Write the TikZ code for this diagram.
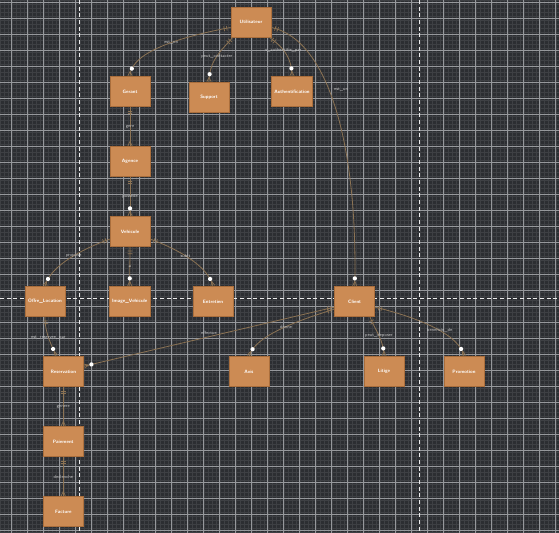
\documentclass[tikz,border=0pt]{standalone}
\usetikzlibrary{decorations.markings}

\definecolor{bgdark}{RGB}{44,46,50}
\definecolor{gridminor}{RGB}{62,64,68}
\definecolor{gridmajor}{RGB}{150,152,156}
\definecolor{entityfill}{RGB}{204,139,84}
\definecolor{entityline}{RGB}{170,110,60}
\definecolor{linkcol}{RGB}{140,115,84}
\definecolor{labelcol}{RGB}{200,200,200}

\tikzset{every picture/.style={line width=0.75pt}}
\tikzset{
  entity/.style={draw=entityline, fill=entityfill, line width=0.5pt, text=white,
    minimum width=30pt, minimum height=22.5pt, inner xsep=2pt,
    font=\fontsize{3.6}{4}\selectfont\sffamily\bfseries},
  lbl/.style={inner sep=0.6pt, text=labelcol,
    font=\fontsize{3.4}{4}\selectfont\sffamily},
  onemany/.style={draw=linkcol, line width=0.6pt, postaction={decorate},
    decoration={markings,
      mark=at position 3pt with {\draw[linkcol,line width=0.5pt] (0,-1.8pt) -- (0,1.8pt);},
      mark=at position 5pt with {\draw[linkcol,line width=0.5pt] (0,-1.8pt) -- (0,1.8pt);},
      mark=at position -6pt with {\fill[white] (0,0) circle (1.6pt);},
      mark=at position -0.3pt with {\draw[linkcol,line width=0.5pt] (-3.5pt,0) -- (0,-1.6pt) (-3.5pt,0) -- (0,1.6pt);}}},
  oneone/.style={draw=linkcol, line width=0.6pt, postaction={decorate},
    decoration={markings,
      mark=at position 3pt with {\draw[linkcol,line width=0.5pt] (0,-1.8pt) -- (0,1.8pt);},
      mark=at position 5pt with {\draw[linkcol,line width=0.5pt] (0,-1.8pt) -- (0,1.8pt);},
      mark=at position -0.3pt with {\draw[linkcol,line width=0.5pt] (-3.5pt,0) -- (0,-1.6pt) (-3.5pt,0) -- (0,1.6pt);}}},
  guide/.style={draw=white!85!gray, line width=0.5pt, dash pattern={on 3pt off 2pt}}
}

\begin{document}
\begin{tikzpicture}[x=0.75pt,y=0.75pt,yscale=-1,xscale=1]
\useasboundingbox (0,0) rectangle (559,532);

% Background and grid
\fill[bgdark] (0,0) rectangle (559,532);
\begin{scope}
\clip (0,0) rectangle (559,532);
\draw[gridminor, line width=0.3pt, step=4] (0,0) grid (560,533);
\begin{scope}[shift={(11.7,2.7)}]
\draw[gridmajor, line width=0.4pt, step=16] (-16,-16) grid (560,540);
\end{scope}
\end{scope}

%Dashed guides
\draw[guide] (79,0) -- (79,532);
\draw[guide] (419,0) -- (419,532);
\draw[guide] (0,298) -- (559,298);

% Entity Nodes
\node[entity] (util) at (251,22) {Utilisateur};
\node[entity] (gerant) at (130,91.7) {Gerant};
\node[entity] (support) at (209,97.5) {Support};
\node[entity] (auth) at (292,91.7) {Authentification};
\node[entity] (agence) at (130,161.7) {Agence};
\node[entity] (vehicule) at (130,231.7) {Vehicule};
\node[entity] (offre) at (45,301.7) {Offre\_Location};
\node[entity] (image) at (129.7,301.7) {Image\_Vehicule};
\node[entity] (entretien) at (213,301.7) {Entretien};
\node[entity] (client) at (354.7,301.7) {Client};
\node[entity] (resa) at (63.3,371.7) {Reservation};
\node[entity] (avis) at (249,371.7) {Avis};
\node[entity] (litige) at (384,371.7) {Litige};
\node[entity] (promo) at (464,371.7) {Promotion};
\node[entity] (paiement) at (63.3,441.7) {Paiement};
\node[entity] (facture) at (63.3,511.7) {Facture};

%Curve Lines
\draw[onemany] (util.195) .. controls (190,35) and (130,50) .. node[lbl,pos=0.45] {est\_un} (gerant.north);
\draw[onemany] (util.220) .. controls (222,50) and (209,60) .. node[lbl,pos=0.5] {peut\_contacter} (support.north);
\draw[onemany] (util.-40) .. controls (280,45) and (292,55) .. node[lbl,pos=0.45] {s\_authentifie\_par} (auth.north);
\draw[onemany] (util.-15) .. controls (330,40) and (358,150) .. node[lbl,pos=0.42,right=3pt] {est\_un} (client.north);
%Straight Lines
\draw[oneone] (gerant.south) -- node[lbl] {gere} (agence.north);
\draw[onemany] (agence.south) -- node[lbl] {possede} (vehicule.north);
\draw[onemany] (vehicule.200) .. controls (85,248) and (50,265) .. node[lbl,pos=0.45] {propose} (offre.north);
\draw[onemany] (vehicule.south) -- node[lbl] {a} (image.north);
\draw[onemany] (vehicule.-20) .. controls (175,248) and (208,265) .. node[lbl,pos=0.45] {subit} (entretien.north);
\draw[onemany] (offre.south) .. controls (45,335) and (52,345) .. node[lbl,pos=0.45] {est\_reservee\_par} (resa.115);
\draw[onemany] (client.195) -- node[lbl,pos=0.5,above=1pt] {effectue} (resa.15);
\draw[onemany] (client.200) .. controls (300,320) and (255,335) .. node[lbl,pos=0.45] {donne} (avis.north);
\draw[onemany] (client.-45) .. controls (375,330) and (384,340) .. node[lbl,pos=0.5] {peut\_deposer} (litige.north);
\draw[onemany] (client.-15) .. controls (420,318) and (460,335) .. node[lbl,pos=0.55] {beneficie\_de} (promo.north);
\draw[oneone] (resa.south) -- node[lbl] {genere} (paiement.north);
\draw[oneone] (paiement.south) -- node[lbl] {declenche} (facture.north);

\end{tikzpicture}
\end{document}
